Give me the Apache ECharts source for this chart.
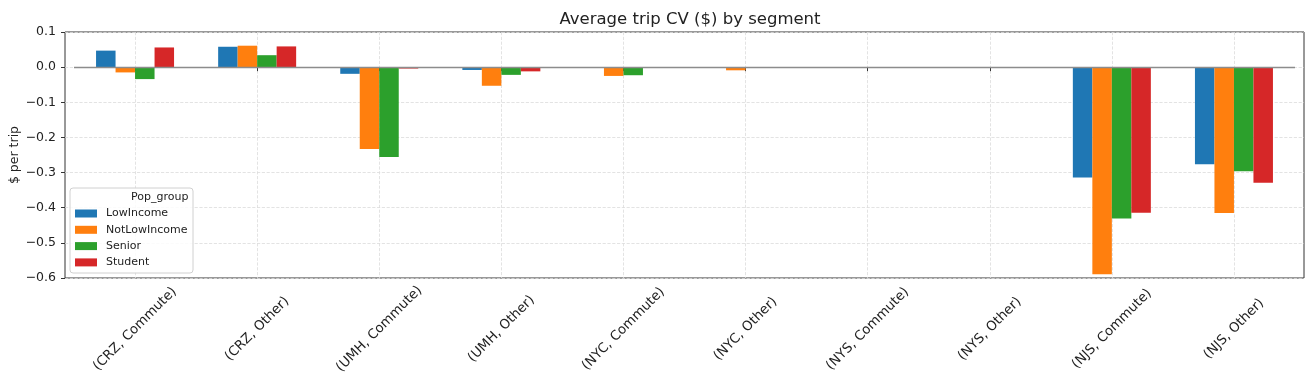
<!DOCTYPE html>
<html>
<head>
<meta charset="utf-8">
<script src="https://cdn.jsdelivr.net/npm/echarts@6/dist/echarts.min.js"></script>
<style>
  html, body { margin: 0; padding: 0; background: #fff; }
  #chart-container { width: 1311px; height: 378px; }
</style>
</head>
<body>
<div id="chart-container"></div>
<script>
var categories = ['(CRZ, Commute)', '(CRZ, Other)', '(UMH, Commute)', '(UMH, Other)', '(NYC, Commute)',
    '(NYC, Other)', '(NYS, Commute)', '(NYS, Other)', '(NJS, Commute)', '(NJS, Other)'];
var groups = ['LowIncome', 'NotLowIncome', 'Senior', 'Student'];
var lowIncome    = [0.047, 0.058, -0.019, -0.008, -0.002, -0.001, 0, 0, -0.314, -0.276];
var notLowIncome = [-0.015, 0.061, -0.233, -0.053, -0.025, -0.009, 0, 0, -0.589, -0.415];
var senior       = [-0.034, 0.034, -0.256, -0.022, -0.023, -0.001, 0, 0, -0.431, -0.296];
var student      = [0.056, 0.059, -0.004, -0.012, -0.001, -0.001, 0, 0, -0.414, -0.329];

var colors = ['#1f77b4', '#ff7f0e', '#2ca02c', '#d62728'];
var values = [lowIncome, notLowIncome, senior, student];
var font = 'DejaVu Sans';

var dom = document.getElementById('chart-container');
var myChart = echarts.init(dom, null, { renderer: 'canvas' });

var series = groups.map(function (name, i) {
    var s = {
        name: name,
        type: 'bar',
        xAxisIndex: 1,
        yAxisIndex: 1,
        data: values[i],
        barWidth: 19.5,
        barGap: '0%',
        itemStyle: { color: colors[i] }
    };
    if (i === 0) {
        // horizontal reference line at zero
        s.markLine = {
            silent: true,
            symbol: 'none',
            label: { show: false },
            lineStyle: { color: '#8c8c8c', width: 1.3, type: 'solid' },
            data: [{ yAxis: 0 }]
        };
    }
    return s;
});

var option = {
    animation: false,
    textStyle: { fontFamily: font },
    title: {
        text: 'Average trip CV ($) by segment',
        left: 685,
        textAlign: 'center',
        top: 6,
        textStyle: { fontFamily: font, fontSize: 16.5, fontWeight: 'normal', color: '#222' }
    },
    color: colors,
    legend: {
        orient: 'vertical',
        left: 70,
        top: 203,
        z: 20,
        itemWidth: 22,
        itemHeight: 8,
        itemGap: 5.3,
        icon: 'rect',
        data: groups,
        textStyle: { fontFamily: font, fontSize: 11, color: '#222', padding: [0, 0, 0, 4] }
    },
    graphic: [
        {
            type: 'rect',
            z: 5,
            shape: { x: 70, y: 188, width: 123, height: 85, r: 3 },
            style: { fill: 'rgba(255,255,255,0.85)', stroke: '#d0d0d0', lineWidth: 1 }
        },
        {
            type: 'text',
            z: 6,
            left: 131,
            top: 192,
            style: { text: 'Pop_group', fontFamily: font, fontSize: 11, fill: '#222', textAlign: 'center' }
        },
        {
            type: 'text',
            x: 8,
            y: 155,
            rotation: Math.PI / 2,
            style: { text: '$ per trip', fontFamily: font, fontSize: 12.5, fill: '#222', textAlign: 'center', textVerticalAlign: 'top' }
        }
    ],
    // grid 0: frame + y ticks/gridlines; grid 1: the bars (matplotlib-like side margins)
    grid: [
        { left: 65, right: 7, top: 32, bottom: 100, outerBoundsMode: 'none', show: true, borderColor: '#333', borderWidth: 1, backgroundColor: 'transparent' },
        { left: 74, right: 16, top: 32, bottom: 100, outerBoundsMode: 'none' }
    ],
    xAxis: [
        { type: 'value', gridIndex: 0, show: false, min: 0, max: 1 },
        {
            type: 'category',
            gridIndex: 1,
            data: categories,
            axisLine: { show: false },
            axisTick: { show: true, alignWithLabel: true, length: 4, lineStyle: { color: '#333' } },
            splitLine: { show: true, alignWithLabel: true, lineStyle: { color: '#dcdcdc', type: 'dashed', width: 0.8 } },
            axisLabel: {
                rotate: 45,
                align: 'center',
                verticalAlign: 'middle',
                margin: 51,
                fontFamily: font,
                fontSize: 13.3,
                color: '#222',
                interval: 0
            }
        }
    ],
    yAxis: [
        {
            type: 'value',
            gridIndex: 0,
            min: -0.6,
            max: 0.1,
            interval: 0.1,
            axisLine: { show: false },
            axisTick: { show: true, length: 4, lineStyle: { color: '#333' } },
            splitLine: { show: true, lineStyle: { color: '#dcdcdc', type: 'dashed', width: 0.8 } },
            axisLabel: {
                fontFamily: font,
                fontSize: 12.5,
                color: '#222',
                margin: 9,
                formatter: function (v) {
                    return v.toFixed(1).replace('-', '\u2212');
                }
            }
        },
        {
            type: 'value',
            gridIndex: 1,
            min: -0.6,
            max: 0.1,
            interval: 0.1,
            axisLine: { show: false },
            axisTick: { show: false },
            axisLabel: { show: false },
            splitLine: { show: false }
        }
    ],
    series: series
};

if (option && typeof option === 'object') {
    myChart.setOption(option);
}

window.addEventListener('resize', myChart.resize);
</script>
</body>
</html>
